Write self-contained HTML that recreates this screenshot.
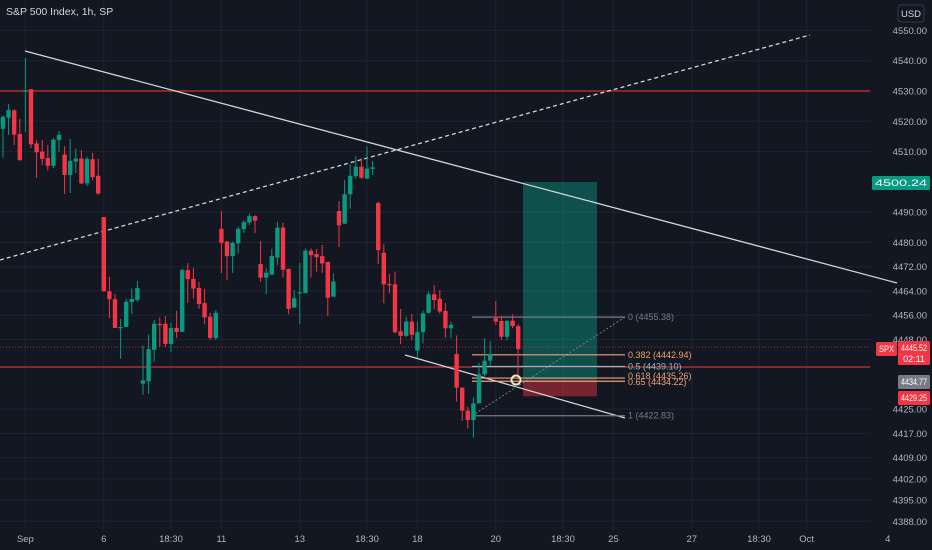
<!DOCTYPE html>
<html><head><meta charset="utf-8">
<style>
html,body{margin:0;padding:0;background:#131722;overflow:hidden}
#wrap{position:relative;width:932px;height:550px;background:#131722;font-family:"Liberation Sans",sans-serif}
svg{position:absolute;left:0;top:0}
</style></head>
<body>
<div id="wrap">
<svg id="chart" width="932" height="550"></svg>
</div>
<script>
const opens=[4517.5,4521.2,4523.6,4515.8,4530.1,4530.6,4512.7,4510,4507.9,4505.3,4513.8,4509,4502.3,4506.7,4507.7,4499.5,4507.5,4502,4488.4,4463.9,4461.3,4452,4452.1,4460.3,4461,4433.4,4434.2,4444.6,4453.1,4453.2,4446.5,4451.8,4450.5,4470.9,4468,4465,4460,4455.5,4448.5,4484.5,4480.3,4475.5,4479.7,4484.4,4486.6,4488.7,4472.9,4468.4,4469.4,4475,4484.9,4471.3,4458.5,4463.2,4463.3,4477.3,4476.2,4475.5,4473.6,4462.1,4490.4,4486.2,4495.9,4501.9,4505,4501.1,4504.3,4493,4476.6,4466.3,4466.2,4450.7,4449.2,4453.9,4444.3,4450.4,4456.8,4462.9,4461.4,4457.4,4451.7,4443.2,4432.1,4424.5,4421.4,4426.9,4436.5,4441,4455,4454.1,4448.9,4454.2,4452.4];
const closes=[4521.5,4523.7,4515.6,4507.2,4530.2,4512.4,4509.8,4507.6,4505.3,4513.9,4515.5,4502.3,4506.9,4507.7,4499.5,4507.6,4501.6,4496.2,4463.9,4461.3,4451.8,4452.1,4460.4,4461.4,4465,4434.5,4444.8,4453.2,4452.8,4446.5,4451.8,4450.5,4470.9,4467.9,4464.8,4459.7,4455.3,4448.5,4456.8,4479.9,4475.5,4479.9,4484.5,4486.7,4488.7,4487.2,4468.4,4470,4475.5,4484.9,4471,4458.1,4461.6,4463.6,4477.3,4475.8,4475.2,4473.1,4461.8,4467.1,4485.7,4495.9,4502,4505,4501.4,4504.4,4504.8,4477.5,4466.2,4466,4450.4,4449.2,4453.9,4449.5,4450.4,4456.6,4462.9,4461,4457.2,4451.7,4452.8,4432.1,4424.5,4421.4,4426.9,4436.5,4441,4443.1,4453.9,4448.9,4454.1,4452.4,4444.8];
const highs=[4522,4525.7,4524,4520.8,4540.9,4530.6,4513.8,4513.8,4512.2,4514.5,4516.8,4511.8,4514.2,4510.9,4510.5,4508.3,4509.6,4507.6,4488.4,4468.7,4463,4454.8,4461.4,4464.8,4467.3,4446,4449.6,4454.4,4455.2,4455.7,4453.5,4457.4,4471.3,4473.2,4471.6,4467,4464.7,4456.8,4457.7,4490.4,4480.5,4480.3,4485.2,4487.4,4489.6,4489,4480.5,4471.5,4477.9,4486.8,4486.5,4471.3,4464.3,4473.3,4478,4478,4477.9,4479.2,4473.6,4469.8,4493.7,4500.6,4505.8,4508.5,4507.9,4511.8,4506.9,4493.5,4479.5,4469.6,4470.4,4458.1,4455.5,4456.4,4453.9,4457.5,4463.8,4465.9,4464.3,4460,4453.9,4449.3,4432.1,4425.8,4428.9,4440.3,4448.4,4447.5,4460.7,4455.8,4454.4,4456.3,4453];
const lows=[4508,4515.5,4512.2,4507,4516.5,4511.2,4501.3,4505.6,4503.7,4504.6,4510,4496,4496.3,4503,4499.3,4498.6,4500.6,4495.7,4463.9,4455,4451.8,4441.6,4452.1,4456.5,4460.4,4429.7,4430.1,4440.7,4445.6,4445.5,4443.8,4448.5,4450.5,4460.1,4461.5,4458.1,4453.1,4447.8,4447.8,4470,4467.6,4470,4476.4,4483.2,4485.8,4483.1,4467.1,4463,4469.3,4472.6,4468.4,4456.3,4458.5,4453,4463.3,4468.4,4470.4,4470,4455.8,4462.1,4478.5,4486.1,4491.2,4501.1,4501,4501,4502.3,4472.9,4459.9,4463.2,4450,4446.5,4448.8,4447.8,4441.9,4446.7,4456.6,4458,4456.6,4448.6,4448.4,4427.5,4421.1,4418.6,4415.6,4426.9,4435.7,4439.2,4452.8,4447.8,4447.8,4451.7,4444.8];
const yTicks=[4550,4540,4530,4520,4510,4490,4480,4472,4464,4456,4448,4425,4417,4409,4402,4395,4388];
const xTickLabels=["Sep","6","18:30","11","13","18:30","18","20","18:30","25","27","18:30","Oct","4"];
const xTickIdx=[4,18,30,39,53,65,74,88,100,109,123,135,143.5,158];
const fibLevels=[0,0.382,0.5,0.618,0.65,1];
const fibPrices=[4455.38,4442.94,4439.10,4435.26,4434.22,4422.83];

const NS="http://www.w3.org/2000/svg";
const svg=document.getElementById('chart');
const Y=p=>91+(4530-p)*3.03;
const X=i=>3+i*5.6;
function el(tag,attrs,parent){const e=document.createElementNS(NS,tag);for(const k in attrs)e.setAttribute(k,attrs[k]);(parent||svg).appendChild(e);return e;}

const grid=el('g',{});


yTicks.forEach(t=>{const l=el('line',{x1:0,x2:870,y1:Y(t),y2:Y(t),stroke:'#1f2330','stroke-width':1},grid);

});
xTickIdx.forEach(i=>{const l=el('line',{x1:X(i),x2:X(i),y1:0,y2:530,stroke:'#1f2330','stroke-width':1},grid);

});

const pt=el('g',{});


const tp=el('rect',{x:523,y:182,width:74,height:Y(4434.6)-182,fill:'rgba(8,153,129,0.45)'},pt);


const sl=el('rect',{x:523,y:Y(4434.6),width:74,height:Y(4429.25)-Y(4434.6),fill:'rgba(242,54,69,0.45)'},pt);



[[4530,'resistance-line'],[4438.9,'support-line']].forEach(([p,n])=>{const l=el('line',{x1:0,x2:870,y1:Y(p),y2:Y(p),stroke:'#b22833','stroke-width':1.5});

});
const cp=el('line',{x1:0,x2:870,y1:Y(4445.52),y2:Y(4445.52),stroke:'#f23645','stroke-width':1,'stroke-dasharray':'1 2',opacity:0.7});



const t2=el('line',{x1:0,y1:260,x2:810,y2:35,stroke:'#d1d4dc','stroke-width':1.3,'stroke-dasharray':'4 3'});


const t3=el('line',{x1:405,y1:355,x2:625,y2:418,stroke:'#d1d4dc','stroke-width':1.3});



const fib=el('g',{});


const fibColors=['#787b86','#f0a070','#80c0c0','#f0a070','#f0a070','#787b86'];
const fd=el('line',{x1:472,y1:Y(fibPrices[5]),x2:625,y2:Y(fibPrices[0]),stroke:'#787b86','stroke-width':1,'stroke-dasharray':'2 2'},fib);


fibLevels.forEach((lv,i)=>{
 const l=el('line',{x1:472,x2:625,y1:Y(fibPrices[i]),y2:Y(fibPrices[i]),stroke:fibColors[i],'stroke-width':1.2},fib);
 
 
 const dy=(lv===0.618)?-2:(lv===0.65?1:0);
 const t=el('text',{x:628,y:Y(fibPrices[i])+3+dy,fill:fibColors[i],'font-size':9},fib);
 t.textContent=lv+' ('+fibPrices[i].toFixed(2)+')';
 
 
});

const cg=el('g',{});


opens.forEach((o,i)=>{
 const c=closes[i],up=c>=o,col=up?'#089981':'#f23645',x=X(i);
 const w=el('line',{x1:x,x2:x,y1:Y(highs[i]),y2:Y(lows[i]),stroke:col,'stroke-width':1},cg);
 
 
 const top=Y(Math.max(o,c)),bh=Math.max(1.2,Math.abs(Y(o)-Y(c)));
 const b=el('rect',{x:x-2.2,y:top,width:4.4,height:bh,fill:col},cg);
 
 
});

const ev=el('line',{x1:518,x2:518,y1:Y(4445.52),y2:Y(4434.6),stroke:'#f23645','stroke-width':1});


const ec=el('circle',{cx:516,cy:Y(4434.6),r:4.5,fill:'none',stroke:'#f0e6c0','stroke-width':2});



const ax=el('g',{});


el('rect',{x:870,y:0,width:62,height:550,fill:'#131722'},ax);
yTicks.forEach(t=>{const tx=el('text',{x:927,y:Y(t)+3.5,fill:'#b2b5be','font-size':9.5,'text-anchor':'end'},ax);
tx.textContent=t.toFixed(2);

});

const t1=el('line',{x1:25,y1:51,x2:897,y2:283,stroke:'#d1d4dc','stroke-width':1.3});



function tag(x,y,w,h,bg,txt,fg,name,txt2){
 const g=el('g',{},ax);
 
 
 el('rect',{x:x,y:y,width:w,height:h,fill:bg,rx:1.5},g);
 const t=el('text',{x:x+w/2,y:y+10,fill:fg,'font-size':9,'text-anchor':'middle',textLength:w-6,lengthAdjust:'spacingAndGlyphs'},g);t.textContent=txt;
 if(txt2){const t2=el('text',{x:x+w/2,y:y+21,fill:fg,'font-size':9,'text-anchor':'middle'},g);t2.textContent=txt2;}
}
tag(872,176,58,14,'#089981','4500.24','#fff','target-price-tag');
tag(876,342,21,14,'#f23645','SPX','#fff','symbol-tag');
tag(898,341,32,24,'#f23645','4445.52','#fff','last-price-tag','02:11');
tag(898,375,32,14,'#787b86','4434.77','#fff','entry-price-tag');
tag(898,391,32,14,'#f23645','4429.25','#fff','stop-price-tag');
const usd=el('g',{},ax);


el('rect',{x:898,y:5,width:26,height:17,fill:'#131722',stroke:'#363a45',rx:3},usd);
const ut=el('text',{x:911,y:17,fill:'#d1d4dc','font-size':9.5,'text-anchor':'middle'},usd);ut.textContent='USD';

const ta=el('g',{});


xTickLabels.forEach((s,i)=>{const x=Math.min(X(xTickIdx[i]),888);const t=el('text',{x:x,y:542,fill:'#b2b5be','font-size':9.5,'text-anchor':'middle'},ta);
t.textContent=s;

});

const title=el('text',{x:6,y:15,fill:'#d1d4dc','font-size':10.5});
title.textContent='S&P 500 Index, 1h, SP';


</script>
</body></html>
